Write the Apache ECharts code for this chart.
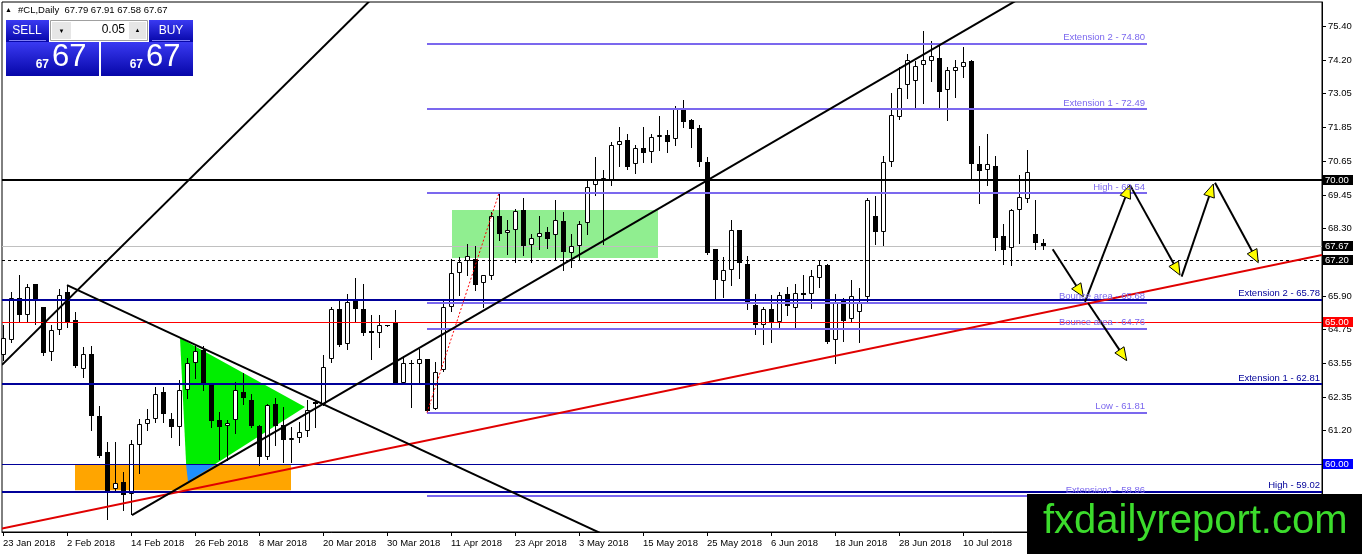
<!DOCTYPE html>
<html lang="en">
<head>
  <meta charset="UTF-8">
  <title>#CL,Daily</title>
  <style>
    html, body { margin: 0; padding: 0; background: #fff; }
    #chart { width: 1362px; height: 554px; }
  </style>
</head>
<body>
  <div id="chart"></div>
</body>

<script src="https://cdn.jsdelivr.net/npm/echarts@6/dist/echarts.min.js"></script>

<script>
  // daily bars, one every trading day from 23 Jan 2018
  const opens = [63.83, 64.36, 65.86, 65.24, 66.33, 65.53, 63.95, 64.73, 66.06, 65.06,
    63.36, 63.89, 61.68, 60.42, 59.11, 59.38, 58.94, 60.66, 61.40, 61.60,
    62.52, 61.57, 61.29, 62.60, 63.57, 64.03, 62.81, 61.54, 61.33, 61.54,
    62.54, 62.27, 61.33, 60.23, 62.13, 61.37, 60.84, 60.90, 61.17, 62.19,
    62.11, 63.68, 65.47, 64.24, 65.76, 65.47, 64.68, 64.61, 64.88, 65.00,
    62.86, 63.56, 63.51, 63.68, 61.95, 63.30, 65.53, 66.73, 67.15, 67.23,
    66.37, 66.61, 68.72, 68.13, 68.25, 68.93, 67.70, 67.99, 68.17, 68.05,
    68.54, 67.44, 67.66, 68.49, 69.81, 70.04, 69.99, 71.22, 71.42, 70.55,
    71.13, 70.98, 71.56, 71.60, 71.45, 72.45, 72.10, 71.84, 70.63, 67.58,
    66.45, 66.84, 68.23, 67.03, 65.59, 64.89, 65.47, 65.00, 65.98, 65.51,
    66.03, 66.00, 66.56, 66.99, 64.38, 65.79, 65.09, 65.36, 65.88, 68.75,
    68.17, 70.63, 72.21, 73.33, 73.48, 74.06, 74.20, 74.30, 73.17, 73.83,
    73.97, 74.20, 70.55, 70.36, 70.51, 68.02, 67.62, 68.95, 69.34, 68.09,
    67.79];
  const highs = [64.88, 66.06, 66.64, 66.35, 66.35, 65.53, 64.88, 66.17, 66.29, 65.35,
    64.12, 64.15, 62.04, 60.78, 60.78, 59.73, 60.84, 61.57, 61.95, 62.72,
    62.72, 61.80, 62.95, 63.75, 64.15, 64.15, 62.81, 61.84, 61.54, 62.89,
    63.21, 62.48, 61.37, 62.11, 62.31, 62.01, 61.31, 61.49, 62.25, 62.25,
    63.85, 65.53, 65.76, 66.00, 66.56, 66.35, 65.24, 65.24, 64.90, 65.41,
    63.79, 63.65, 64.06, 63.68, 63.60, 65.80, 67.23, 67.29, 67.73, 67.66,
    66.64, 68.87, 69.54, 68.58, 68.99, 69.38, 68.09, 68.75, 68.34, 69.31,
    68.87, 68.11, 68.56, 69.99, 70.81, 70.36, 71.33, 71.86, 71.63, 71.22,
    71.88, 71.63, 72.27, 71.77, 72.59, 72.80, 72.16, 71.95, 70.81, 67.58,
    67.29, 68.60, 68.25, 67.31, 66.00, 65.53, 65.94, 66.06, 66.23, 66.33,
    66.64, 66.84, 67.15, 67.03, 65.98, 65.86, 66.49, 66.18, 69.38, 69.42,
    70.86, 73.06, 73.97, 74.44, 74.20, 75.26, 74.88, 74.77, 73.99, 74.23,
    74.67, 74.23, 71.21, 71.63, 70.86, 68.44, 68.99, 70.16, 71.06, 69.28,
    67.91];
  const lows = [63.65, 64.30, 65.00, 65.00, 64.94, 63.83, 63.65, 64.59, 64.83, 63.42,
    63.07, 61.19, 60.26, 58.05, 59.02, 58.38, 58.24, 59.69, 61.19, 61.49,
    61.49, 60.96, 60.66, 62.31, 63.04, 62.60, 61.31, 60.16, 60.14, 61.08,
    62.11, 61.31, 59.96, 60.16, 60.66, 60.08, 60.08, 60.78, 60.99, 61.31,
    62.07, 63.60, 64.15, 64.06, 65.00, 64.53, 63.71, 64.12, 64.86, 62.80,
    62.83, 62.01, 62.83, 61.81, 61.92, 63.27, 65.40, 65.94, 66.64, 66.12,
    65.53, 66.53, 67.88, 67.41, 67.11, 67.35, 67.11, 67.58, 67.62, 67.17,
    66.82, 66.94, 67.23, 68.11, 69.46, 67.76, 69.81, 70.51, 70.40, 70.24,
    70.63, 70.63, 71.06, 70.98, 71.25, 71.86, 71.17, 70.51, 67.41, 65.82,
    65.88, 66.30, 66.56, 65.47, 64.59, 64.22, 64.30, 64.77, 65.24, 64.83,
    65.86, 65.51, 66.23, 64.27, 63.54, 64.34, 65.04, 64.30, 65.71, 67.74,
    67.70, 70.51, 72.15, 72.89, 72.56, 72.70, 73.50, 72.50, 72.12, 72.94,
    73.62, 70.01, 69.19, 69.81, 67.52, 67.03, 66.99, 67.78, 69.22, 67.58,
    67.58];
  const closes = [64.42, 65.86, 65.24, 66.23, 65.79, 63.91, 64.73, 65.94, 65.00, 63.44,
    63.89, 61.68, 60.28, 59.02, 59.32, 58.91, 60.72, 61.40, 61.60, 62.46,
    61.75, 61.31, 62.62, 63.54, 63.97, 62.86, 61.52, 61.31, 61.43, 62.60,
    62.34, 61.33, 60.26, 62.07, 61.33, 60.84, 60.90, 61.13, 61.90, 62.11,
    63.40, 65.47, 64.18, 65.70, 65.47, 64.61, 64.66, 64.88, 64.88, 62.83,
    63.54, 63.56, 63.71, 61.87, 63.24, 65.53, 66.73, 67.11, 67.32, 66.29,
    66.64, 68.75, 68.11, 68.25, 68.91, 67.66, 67.97, 68.13, 67.93, 68.58,
    67.47, 67.66, 68.46, 69.77, 69.99, 70.06, 71.25, 71.39, 70.45, 71.13,
    70.95, 71.51, 71.57, 71.33, 72.54, 72.04, 71.80, 70.63, 67.43, 66.49,
    66.84, 68.23, 67.08, 65.71, 64.89, 65.47, 65.00, 65.94, 65.55, 66.02,
    66.02, 66.61, 66.99, 64.30, 65.71, 65.04, 65.91, 65.71, 69.28, 68.17,
    70.63, 72.29, 73.24, 74.23, 74.03, 74.23, 74.35, 73.09, 73.88, 73.97,
    74.15, 70.55, 70.31, 70.57, 67.97, 67.55, 68.95, 69.40, 70.28, 67.78,
    67.67];

  // one date label every 8 bars
  const dateLabels = ['23 Jan 2018', '2 Feb 2018', '14 Feb 2018', '26 Feb 2018', '8 Mar 2018',
    '20 Mar 2018', '30 Mar 2018', '11 Apr 2018', '23 Apr 2018', '3 May 2018', '15 May 2018',
    '25 May 2018', '6 Jun 2018', '18 Jun 2018', '28 Jun 2018', '10 Jul 2018', '20 Jul 2018'];
  const priceTicks = [75.40, 74.20, 73.05, 71.85, 70.65, 69.45, 68.30, 67.10, 65.90,
    64.75, 63.55, 62.35, 61.20, 60.00, 58.80];

  // trend lines: [bar, price, bar, price]
  const blackTrends = [
    [-0.125, 63.49, 48, 76.91],
    [8, 66.30, 80, 56.87],
    [16.125, 58.20, 128, 76.54]
  ];
  const redTrend = [[-0.125, 57.73, 164.875, 67.36]];
  const fibBase = [[53, 61.81, 62, 69.54]];
  const arrowPaths = [
    [131.21, 67.56, 135.04, 65.89],
    [135.25, 65.71, 140.88, 69.82],
    [140.88, 69.82, 147.13, 66.65],
    [147.33, 66.60, 151.29, 69.86],
    [151.5, 69.90, 156.91, 67.09],
    [135.63, 65.67, 140.46, 63.64]
  ];

  // fibonacci levels drawn from bar 53 to bar 143
  const fibLevels = [74.80, 72.49, 69.54, 65.68, 64.76, 61.81, 58.86];
  const fibNames = ['Extension 2', 'Extension 1', 'High', 'Bounce area', 'Bounce area', 'Low', 'Extension1'];
  const fibSpan = [53, 143];

  // full width levels
  const zoneLevels = [65.78, 62.81, 59.02];
  const zoneNames = ['Extension 2', 'Extension 1', 'High'];
  const resistLevel = [70.00];
  const redLevel = [65.00];
  const blueLevel = [60.00];
  const bidLevel = [67.67];
  const dashLevel = [67.20];

  // shaded areas
  const orangeZone = [[9, 60.00, 36, 59.08]];
  const greenZone = [[56.125, 68.94, 81.875, 67.25]];
  const wedge = [[22.125, 64.44], [23, 59.37], [37.75, 62.01]];
  const wedgeOverlap = [[22.875, 60.00], [26.71, 60.00], [23.125, 59.38]];

  const xMin = -0.125, xMax = 164.875;
  const yMin = 57.606, yMax = 76.268;
  const FONT = '9.5px "Liberation Sans", Arial, sans-serif';

  function crisp(v, w) {
    return w % 2 ? Math.round(v) + 0.5 : Math.round(v);
  }

  function segSeries(rows, stroke, width, dash, z) {
    return {
      type: 'custom', z: z, clip: true, silent: true,
      data: rows,
      renderItem: function (params, api) {
        const a = api.coord([api.value(0), api.value(1)]);
        const b = api.coord([api.value(2), api.value(3)]);
        let y1 = a[1], y2 = b[1];
        if (api.value(1) === api.value(3)) { y1 = y2 = crisp(a[1], width); }
        return {
          type: 'line',
          shape: { x1: a[0], y1: y1, x2: b[0], y2: y2 },
          style: { stroke: stroke, lineWidth: width, lineDash: dash }
        };
      }
    };
  }

  function levelRows(levels, x0, x1) {
    return levels.map(p => [x0, p, x1, p]);
  }

  function rectSeries(rows, fill, z) {
    return {
      type: 'custom', z: z, silent: true, data: rows,
      renderItem: function (params, api) {
        const a = api.coord([api.value(0), api.value(1)]);
        const b = api.coord([api.value(2), api.value(3)]);
        return {
          type: 'rect',
          shape: { x: Math.min(a[0], b[0]), y: Math.min(a[1], b[1]),
            width: Math.abs(b[0] - a[0]), height: Math.abs(b[1] - a[1]) },
          style: { fill: fill }
        };
      }
    };
  }

  function polySeries(pts, fill, z) {
    return {
      type: 'custom', z: z, silent: true, data: [pts[0]],
      renderItem: function (params, api) {
        return {
          type: 'polygon',
          shape: { points: pts.map(p => api.coord(p)) },
          style: { fill: fill }
        };
      }
    };
  }

  function labelSeries(levels, names, atBar, color, z) {
    return {
      type: 'custom', z: z, silent: true,
      data: levels.map(p => [atBar, p]),
      renderItem: function (params, api) {
        const pt = api.coord([api.value(0), api.value(1)]);
        const p = levels[params.dataIndex];
        return {
          type: 'text', x: pt[0] - 2, y: pt[1] - 1,
          style: { text: names[params.dataIndex] + ' - ' + p.toFixed(2), fill: color, font: FONT,
            align: 'right', verticalAlign: 'bottom' }
        };
      }
    };
  }

  function tagSeries(levels, fill) {
    return {
      type: 'custom', z: 8, silent: true,
      data: levels.map(p => [xMax, p]),
      renderItem: function (params, api) {
        const pt = api.coord([api.value(0), api.value(1)]);
        const y = Math.round(pt[1]);
        return {
          type: 'group',
          children: [
            { type: 'rect', shape: { x: pt[0] + 1, y: y - 5, width: 30, height: 10 }, style: { fill: fill } },
            { type: 'text', x: pt[0] + 3, y: y + 0.5, style: { text: levels[params.dataIndex].toFixed(2),
              fill: '#fff', font: FONT, verticalAlign: 'middle' } }
          ]
        };
      }
    };
  }

  const candleSeries = {
    type: 'custom', z: 3, silent: true,
    data: opens.map((o, i) => [i, o, highs[i], lows[i], closes[i]]),
    encode: { x: 0, y: [1, 2, 3, 4] },
    renderItem: function (params, api) {
      const i = api.value(0), o = api.value(1), h = api.value(2), l = api.value(3), c = api.value(4);
      const x = Math.round(api.coord([i, o])[0]);
      const yo = api.coord([i, o])[1], yc = api.coord([i, c])[1];
      const yh = Math.round(api.coord([i, h])[1]), yl = Math.round(api.coord([i, l])[1]);
      const top = Math.round(Math.min(yo, yc)), bot = Math.round(Math.max(yo, yc));
      const kids = [{ type: 'line', shape: { x1: x + 0.5, y1: yh, x2: x + 0.5, y2: yl + 1 },
        style: { stroke: '#000', lineWidth: 1 } }];
      if (c > o) {
        kids.push({ type: 'rect', shape: { x: x - 1.5, y: top + 0.5, width: 4, height: Math.max(bot - top - 1, 1) },
          style: { fill: '#fff', stroke: '#000', lineWidth: 1 } });
      } else if (c < o) {
        kids.push({ type: 'rect', shape: { x: x - 2, y: top, width: 5, height: Math.max(bot - top, 2) },
          style: { fill: '#000' } });
      } else {
        kids.push({ type: 'line', shape: { x1: x - 2, y1: top + 0.5, x2: x + 3, y2: top + 0.5 },
          style: { stroke: '#000', lineWidth: 1 } });
      }
      return { type: 'group', children: kids };
    }
  };

  const arrowSeries = {
    type: 'custom', z: 6, silent: true, data: arrowPaths,
    renderItem: function (params, api) {
      const a = api.coord([api.value(0), api.value(1)]);
      const b = api.coord([api.value(2), api.value(3)]);
      const dx = b[0] - a[0], dy = b[1] - a[1], len = Math.hypot(dx, dy);
      const ux = dx / len, uy = dy / len;
      const bx = b[0] - ux * 13, by = b[1] - uy * 13;
      return {
        type: 'group',
        children: [
          { type: 'line', shape: { x1: a[0], y1: a[1], x2: bx, y2: by }, style: { stroke: '#000', lineWidth: 2 } },
          { type: 'polygon', shape: { points: [[b[0], b[1]], [bx - uy * 5.5, by + ux * 5.5], [bx + uy * 5.5, by - ux * 5.5]] },
            style: { fill: '#ffff00', stroke: '#000', lineWidth: 1 } }
        ]
      };
    }
  };

  const myChart = echarts.init(document.getElementById('chart'));
  const blueGrad = new echarts.graphic.LinearGradient(0, 0, 0, 1, [
    { offset: 0, color: '#3a3af2' },
    { offset: 1, color: '#0606a8' }
  ]);
  const last = opens.length - 1;
  const header = '#CL,Daily  ' + [opens[last], highs[last], lows[last], closes[last]].map(v => v.toFixed(2)).join(' ');

  const option = {
    animation: false,
    grid: {
      left: 2, top: 2, right: 40, bottom: 22,
      show: true, borderColor: '#000', borderWidth: 1, backgroundColor: '#fff'
    },
    xAxis: {
      type: 'value', min: xMin, max: xMax,
      axisLine: { show: true, onZero: false, lineStyle: { color: '#000', width: 1 } },
      axisTick: { show: true, length: 4, customValues: dateLabels.map((d, k) => k * 8), lineStyle: { color: '#000' } },
      axisLabel: {
        customValues: dateLabels.map((d, k) => k * 8),
        formatter: v => dateLabels[Math.round(v / 8)],
        align: 'left', margin: 6, color: '#000', fontSize: 9.5, fontFamily: '"Liberation Sans", Arial, sans-serif'
      },
      splitLine: { show: false }
    },
    yAxis: {
      type: 'value', position: 'right', min: yMin, max: yMax, scale: true,
      axisLine: { show: true, onZero: false, lineStyle: { color: '#000', width: 1 } },
      axisTick: { show: true, length: 4, customValues: priceTicks, lineStyle: { color: '#000' } },
      axisLabel: {
        customValues: priceTicks,
        formatter: v => v.toFixed(2),
        margin: 6, color: '#000', fontSize: 9.5, fontFamily: '"Liberation Sans", Arial, sans-serif'
      },
      splitLine: { show: false }
    },
    series: [
      polySeries(wedge, '#00ee00', 1),
      rectSeries(greenZone, '#90ee90', 1),
      rectSeries(orangeZone, '#ffa500', 1),
      polySeries(wedgeOverlap, '#1e90ff', 1),
      candleSeries,
      segSeries(levelRows(bidLevel, xMin, xMax), '#c0c0c0', 1, null, 2),
      segSeries(levelRows(dashLevel, xMin, xMax), '#000', 1, [3, 3], 4),
      segSeries(levelRows(resistLevel, xMin, xMax), '#000', 2, null, 4),
      segSeries(levelRows(redLevel, xMin, xMax), '#ff0000', 1, null, 4),
      segSeries(levelRows(blueLevel, xMin, xMax), '#000099', 1, null, 4),
      segSeries(levelRows(zoneLevels, xMin, xMax), '#000099', 2, null, 4),
      segSeries(levelRows(fibLevels, fibSpan[0], fibSpan[1]), '#7b68ee', 2, null, 4),
      segSeries(fibBase, '#ff0000', 1, [2, 2], 4),
      segSeries(redTrend, '#e00000', 2, null, 5),
      segSeries(blackTrends, '#000', 2, null, 5),
      arrowSeries,
      labelSeries(fibLevels, fibNames, fibSpan[1], '#7b68ee', 7),
      labelSeries(zoneLevels, zoneNames, xMax, '#000099', 7),
      tagSeries(resistLevel.concat(bidLevel, dashLevel), '#000'),
      tagSeries(redLevel, '#ff0000'),
      tagSeries(blueLevel, '#0000ff')
    ],
    graphic: [
      { type: 'text', z: 100, x: 5, y: 10, style: { text: '▲', fill: '#000', font: '7px sans-serif', verticalAlign: 'middle' } },
      { type: 'text', z: 100, x: 18, y: 10, style: { text: header, fill: '#000', font: FONT, verticalAlign: 'middle' } },
      // one click trading panel
      { type: 'rect', z: 100, shape: { x: 6, y: 20, width: 43, height: 22 }, style: { fill: blueGrad } },
      { type: 'line', z: 101, shape: { x1: 9, y1: 40.5, x2: 46, y2: 40.5 }, style: { stroke: '#7f7ff5', lineWidth: 1 } },
      { type: 'text', z: 101, x: 27, y: 31, style: { text: 'SELL', fill: '#fff', font: '12px "Liberation Sans", sans-serif', align: 'center', verticalAlign: 'middle' } },
      { type: 'rect', z: 100, shape: { x: 50.5, y: 20.5, width: 97, height: 20 }, style: { fill: '#fff', stroke: '#a0a0a0', lineWidth: 1 } },
      { type: 'rect', z: 101, shape: { x: 52, y: 22, width: 19, height: 17 }, style: { fill: '#e6e6e6' } },
      { type: 'rect', z: 101, shape: { x: 129, y: 22, width: 17, height: 17 }, style: { fill: '#e6e6e6' } },
      { type: 'text', z: 102, x: 61.5, y: 31, style: { text: '▼', fill: '#000', font: '6px sans-serif', align: 'center', verticalAlign: 'middle' } },
      { type: 'text', z: 102, x: 137.5, y: 30, style: { text: '▲', fill: '#000', font: '6px sans-serif', align: 'center', verticalAlign: 'middle' } },
      { type: 'text', z: 102, x: 125, y: 30, style: { text: '0.05', fill: '#000', font: '12px "Liberation Sans", sans-serif', align: 'right', verticalAlign: 'middle' } },
      { type: 'rect', z: 100, shape: { x: 149, y: 20, width: 44, height: 22 }, style: { fill: blueGrad } },
      { type: 'line', z: 101, shape: { x1: 152, y1: 40.5, x2: 190, y2: 40.5 }, style: { stroke: '#7f7ff5', lineWidth: 1 } },
      { type: 'text', z: 101, x: 171, y: 31, style: { text: 'BUY', fill: '#fff', font: '12px "Liberation Sans", sans-serif', align: 'center', verticalAlign: 'middle' } },
      { type: 'rect', z: 100, shape: { x: 6, y: 42, width: 93, height: 34 }, style: { fill: blueGrad } },
      { type: 'rect', z: 100, shape: { x: 101, y: 42, width: 92, height: 34 }, style: { fill: blueGrad } },
      { type: 'text', z: 101, x: 49, y: 71, style: { text: '67', fill: '#fff', font: 'bold 12px "Liberation Sans", sans-serif', align: 'right', verticalAlign: 'bottom' } },
      { type: 'text', z: 101, x: 52, y: 73, style: { text: '67', fill: '#fff', font: '31px "Liberation Sans", sans-serif', verticalAlign: 'bottom' } },
      { type: 'text', z: 101, x: 143, y: 71, style: { text: '67', fill: '#fff', font: 'bold 12px "Liberation Sans", sans-serif', align: 'right', verticalAlign: 'bottom' } },
      { type: 'text', z: 101, x: 146, y: 73, style: { text: '67', fill: '#fff', font: '31px "Liberation Sans", sans-serif', verticalAlign: 'bottom' } },
      // watermark
      { type: 'rect', z: 100, shape: { x: 1027, y: 494, width: 335, height: 60 }, style: { fill: '#000' } },
      { type: 'text', z: 101, x: 1043, y: 522, style: { text: 'fxdailyreport.com', fill: '#3cdc2c', font: '40px "Liberation Sans", Arial, sans-serif', verticalAlign: 'middle' } }
    ]
  };

  myChart.setOption(option);
</script>

</html>
